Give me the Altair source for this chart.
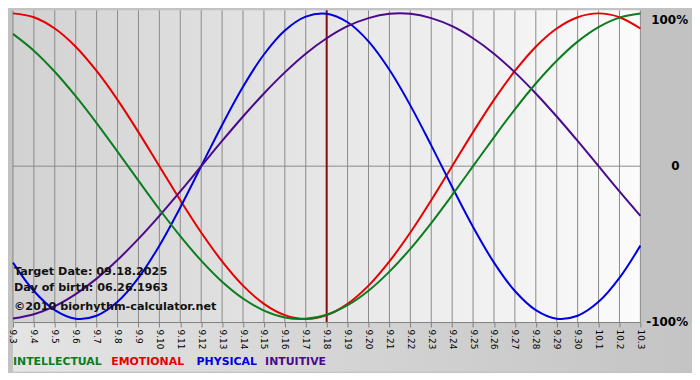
import altair as alt
import pandas as pd

days = ["9.3", "9.4", "9.5", "9.6", "9.7", "9.8", "9.9", "9.10", "9.11", "9.12",
        "9.13", "9.14", "9.15", "9.16", "9.17", "9.18", "9.19", "9.20", "9.21", "9.22",
        "9.23", "9.24", "9.25", "9.26", "9.27", "9.28", "9.29", "9.30", "10.1", "10.2", "10.3"]

physical = [-0.631, -0.817, -0.942, -0.998, -0.979, -0.888, -0.731, -0.520, -0.270, 0.0,
            0.270, 0.520, 0.731, 0.888, 0.979, 0.998, 0.942, 0.817, 0.631, 0.398,
            0.136, -0.136, -0.398, -0.631, -0.817, -0.942, -0.998, -0.979, -0.888, -0.731, -0.520]
emotional = [1.0, 0.975, 0.901, 0.782, 0.623, 0.434, 0.223, 0.0, -0.223, -0.434,
             -0.623, -0.782, -0.901, -0.975, -1.0, -0.975, -0.901, -0.782, -0.623, -0.434,
             -0.223, 0.0, 0.223, 0.434, 0.623, 0.782, 0.901, 0.975, 1.0, 0.975, 0.901]
intellectual = [0.866, 0.756, 0.618, 0.458, 0.282, 0.095, -0.095, -0.282, -0.458, -0.618,
                -0.756, -0.866, -0.945, -0.990, -0.999, -0.972, -0.910, -0.815, -0.690, -0.541,
                -0.372, -0.189, 0.0, 0.189, 0.372, 0.541, 0.690, 0.815, 0.910, 0.972, 0.999]
intuitive = [-0.997, -0.969, -0.916, -0.837, -0.736, -0.614, -0.476, -0.325, -0.165, 0.0,
             0.165, 0.325, 0.476, 0.614, 0.736, 0.837, 0.916, 0.969, 0.997, 0.997,
             0.969, 0.916, 0.837, 0.736, 0.614, 0.476, 0.325, 0.165, 0.0, -0.165, -0.325]

series_names = ["INTELLECTUAL", "EMOTIONAL", "PHYSICAL", "INTUITIVE"]
series_colors = ["#0a7d1e", "#e60000", "#0000e0", "#4b0a8c"]
target_day = "9.18"
info_lines = ["Target Date: 09.18.2025", "Day of birth: 06.26.1963", "©2010 biorhythm-calculator.net"]
right_labels = ["100%", "0", "-100%"]

W, H = 632, 314
FONT = "Verdana, DejaVu Sans"

xscale = alt.Scale(type="point", domain=days, padding=0)
yscale = alt.Scale(domain=[-1.02, 1.02])
one = pd.DataFrame({"a": [0]})

# backgrounds
bottom_bg = alt.Chart(one).mark_rect(
    fill=alt.LinearGradient(gradient="linear", x1=0, x2=1, y1=0, y2=0,
                            stops=[alt.GradientStop(color="#e4e4e4", offset=0),
                                   alt.GradientStop(color="#c4c4c4", offset=1)])
).encode(x=alt.value(0), x2=alt.value(W + 52), y=alt.value(H), y2=alt.value(H + 50))

plot_bg = alt.Chart(one).mark_rect(
    fill=alt.LinearGradient(gradient="linear", x1=0, x2=1, y1=0, y2=0,
                            stops=[alt.GradientStop(color="#d2d2d2", offset=0),
                                   alt.GradientStop(color="#fbfbfb", offset=1)])
).encode(x=alt.value(0), x2=alt.value(W), y=alt.value(0), y2=alt.value(H))

day_df = pd.DataFrame({"day": days})
grid = alt.Chart(day_df).mark_rule(color="#8a8a8a", strokeWidth=1).encode(
    x=alt.X("day:O", scale=xscale, sort=days,
            axis=alt.Axis(title=None, labelAngle=90, labelFont=FONT, labelFontSize=9,
                          labelColor="#000000", labelPadding=2, tickSize=5,
                          tickColor="#808080", domainColor="#808080", grid=False,
                          labelAlign="left", labelBaseline="middle",
                          labelOverlap=False, zindex=2))
)

zero = alt.Chart(pd.DataFrame({"v": [0.0]})).mark_rule(color="#8a8a8a", strokeWidth=1).encode(
    y=alt.Y("v:Q", scale=yscale, axis=None)
)

target = alt.Chart(pd.DataFrame({"day": [target_day]})).mark_rule(
    color="#801010", strokeWidth=2).encode(x=alt.X("day:O", scale=xscale, sort=days))

series_vals = {"INTELLECTUAL": intellectual, "EMOTIONAL": emotional,
               "PHYSICAL": physical, "INTUITIVE": intuitive}
draw_order = ["EMOTIONAL", "PHYSICAL", "INTUITIVE", "INTELLECTUAL"]
line_layers = []
for name in draw_order:
    df = pd.DataFrame({"day": days, "value": series_vals[name]})
    col = series_colors[series_names.index(name)]
    line_layers.append(
        alt.Chart(df).mark_line(color=col, strokeWidth=2, interpolate="catmull-rom").encode(
            x=alt.X("day:O", scale=xscale, sort=days),
            y=alt.Y("value:Q", scale=yscale, axis=None),
        )
    )

info_layers = []
for i, t in enumerate(info_lines):
    info_layers.append(
        alt.Chart(one).mark_text(text=t, align="left", baseline="middle", font=FONT,
                                 fontSize=11.3, fontWeight="bold", color="#111111").encode(
            x=alt.value(1), y=alt.value([264, 280, 299][i]))
    )

rlab_layers = []
for i, t in enumerate(right_labels):
    rlab_layers.append(
        alt.Chart(one).mark_text(text=t, align="left", baseline="middle", font=FONT,
                                 fontSize=12, fontWeight="bold", color="#000000").encode(
            x=alt.value(W + [11, 31, 6][i]), y=alt.value([10, H / 2, H][i]))
    )

legend_layers = []
for i, name in enumerate(series_names):
    legend_layers.append(
        alt.Chart(one).mark_text(text=name, align="left", baseline="middle", font=FONT,
                                 fontSize=11, fontWeight="bold",
                                 color=series_colors[i]).encode(
            x=alt.value([0, 99, 185, 254][i]), y=alt.value(H + 40))
    )

chart = alt.layer(
    bottom_bg, plot_bg, grid, zero, target, *line_layers, *info_layers, *rlab_layers, *legend_layers
).properties(
    width=W, height=H, padding={"left": 0, "top": 0, "right": 0, "bottom": 0}
).configure(background="#c2c2c2").configure_view(strokeWidth=0)

chart.save("out.html", embed_options={"renderer": "svg", "actions": False})
